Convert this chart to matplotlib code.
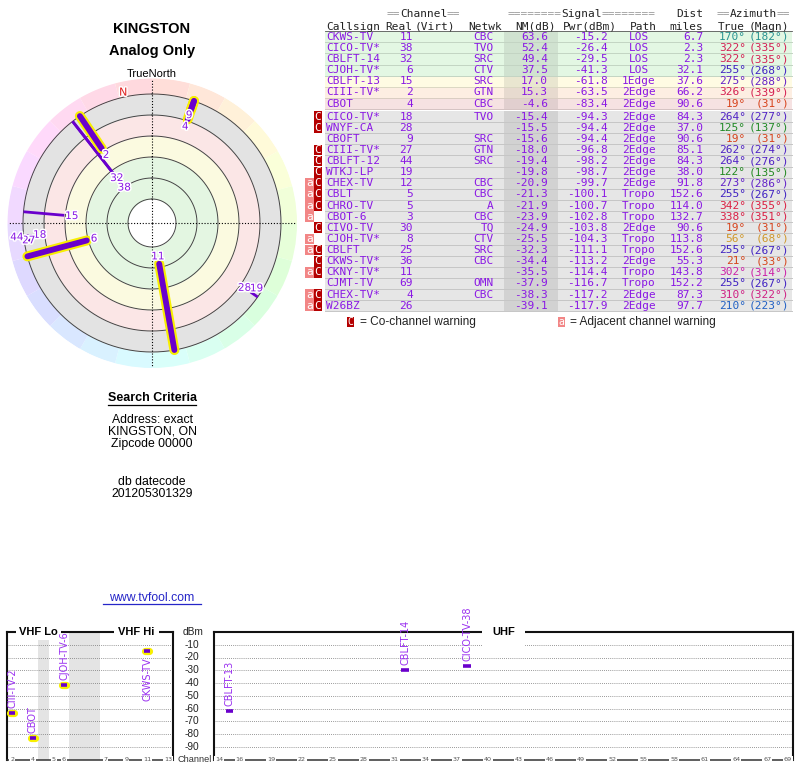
import numpy as np
import matplotlib
matplotlib.use("Agg")
import matplotlib.pyplot as plt
import matplotlib.patheffects as pe
from matplotlib.colors import hsv_to_rgb, to_rgb, LinearSegmentedColormap
from matplotlib.patches import Rectangle

# ---------------- data ----------------
callsigns = ["CKWS-TV", "CICO-TV*", "CBLFT-14", "CJOH-TV*", "CBLFT-13", "CIII-TV*", "CBOT",
             "CICO-TV*", "WNYF-CA", "CBOFT", "CIII-TV*", "CBLFT-12", "WTKJ-LP", "CHEX-TV",
             "CBLT", "CHRO-TV", "CBOT-6", "CIVO-TV", "CJOH-TV*", "CBLFT", "CKWS-TV*",
             "CKNY-TV*", "CJMT-TV", "CHEX-TV*", "W26BZ"]
real_channels = [11, 38, 32, 6, 15, 2, 4, 18, 28, 9, 27, 44, 19, 12, 5, 5, 3, 30, 8, 25, 36, 11, 69, 4, 26]
networks = ["CBC", "TVO", "SRC", "CTV", "SRC", "GTN", "CBC", "TVO", "", "SRC", "GTN", "SRC", "",
            "CBC", "CBC", "A", "CBC", "TQ", "CTV", "SRC", "CBC", "", "OMN", "CBC", ""]
nm_db = [63.6, 52.4, 49.4, 37.5, 17.0, 15.3, -4.6, -15.4, -15.5, -15.6, -18.0, -19.4, -19.8,
         -20.9, -21.3, -21.9, -23.9, -24.9, -25.5, -32.3, -34.4, -35.5, -37.9, -38.3, -39.1]
pwr_dbm = [-15.2, -26.4, -29.5, -41.3, -61.8, -63.5, -83.4, -94.3, -94.4, -94.4, -96.8, -98.2, -98.7,
           -99.7, -100.1, -100.7, -102.8, -103.8, -104.3, -111.1, -113.2, -114.4, -116.7, -117.2, -117.9]
paths = ["LOS", "LOS", "LOS", "LOS", "1Edge",
         "2Edge", "2Edge", "2Edge", "2Edge", "2Edge", "2Edge", "2Edge", "2Edge", "2Edge",
         "Tropo", "Tropo", "Tropo", "2Edge", "Tropo", "Tropo", "2Edge", "Tropo", "Tropo", "2Edge", "2Edge"]
dist_miles = [6.7, 2.3, 2.3, 32.1, 37.6, 66.2, 90.6, 84.3, 37.0, 90.6, 85.1, 84.3, 38.0,
              91.8, 152.6, 114.0, 132.7, 90.6, 113.8, 152.6, 55.3, 143.8, 152.2, 87.3, 97.7]
az_true = [170, 322, 322, 255, 275, 326, 19, 264, 125, 19, 262, 264, 122,
           273, 255, 342, 338, 19, 56, 255, 21, 302, 255, 310, 210]
az_magn = [182, 335, 335, 268, 288, 339, 31, 277, 137, 31, 274, 276, 135,
           286, 267, 355, 351, 31, 68, 267, 33, 314, 267, 322, 223]
warnings = ["", "", "", "", "", "", "", "C", "C", "", "C", "C", "C",
            "aC", "aC", "aC", "a", "C", "a", "aC", "C", "aC", "", "aC", "aC"]

vhf_ticks = [2, 4, 5, 6, 7, 9, 11, 13]
uhf_ticks = [14, 16, 19, 22, 25, 28, 31, 34, 37, 40, 43, 46, 49, 52, 55, 58, 61, 64, 67, 69]
dbm_ticks = [-10, -20, -30, -40, -50, -60, -70, -80, -90]

RADAR_MIN_NM = -20
SPECTRUM_MIN_NM = -10

# ---------------- style ----------------
SANS = "Liberation Sans"
MONO = "DejaVu Sans Mono"
PURPLE = "#8a18e4"
LINE_PURPLE = "#6a00cc"
YELLOW = "#f8ef00"
W, H = 800, 768

# azimuth text colour wheel (style)
_az_stops = [(0, "#e02034"), (20, "#d6461a"), (56, "#cf9a2a"), (122, "#228a22"), (170, "#2a9494"),
             (210, "#2262c4"), (255, "#3f22c2"), (275, "#6422c8"), (302, "#cc22a8"), (322, "#d42054"),
             (360, "#e02034")]
AZ_CMAP = LinearSegmentedColormap.from_list("az", [(a / 360.0, c) for a, c in _az_stops])


def az_color(a):
    return AZ_CMAP((a % 360) / 360.0)


fig = plt.figure(figsize=(W / 100, H / 100), dpi=100)

# overlay axes in pixel coordinates for text / table
ax = fig.add_axes([0, 0, 1, 1])
ax.set_xlim(0, W)
ax.set_ylim(H, 0)
ax.axis("off")

# ---------------- left panel text ----------------
ax.text(152, 29, "KINGSTON", ha="center", va="center", fontsize=10.5, fontweight="bold", family=SANS)
ax.text(152, 51, "Analog Only", ha="center", va="center", fontsize=10.5, fontweight="bold", family=SANS)
ax.text(152, 74, "TrueNorth", ha="center", va="center", fontsize=8, family=SANS)
ax.text(152, 398, "Search Criteria", ha="center", va="center", fontsize=9, fontweight="bold", family=SANS)
ax.plot([108, 196], [405, 405], color="black", lw=0.9)
for yy, s in [(420, "Address: exact"), (432, "KINGSTON, ON"), (444, "Zipcode 00000"),
              (482, "db datecode"), (494, "201205301329")]:
    ax.text(152, yy, s, ha="center", va="center", fontsize=8.8, family=SANS)
ax.text(152, 598, "www.tvfool.com", ha="center", va="center", fontsize=8.8, family=SANS, color="#2626c8")
ax.plot([103, 201], [604, 604], color="#2626c8", lw=0.9)

# ---------------- radar (polar) ----------------
cx, cy, R = 152, 223, 145
axp = fig.add_axes([(cx - R) / W, (H - cy - R) / H, 2 * R / W, 2 * R / H], projection="polar")
axp.set_theta_zero_location("N")
axp.set_theta_direction(-1)
NM_CENTER, NM_EDGE = 105, -40
ring_nm = [81, 60, 39, 18, -3, -24]
band_cols = ["#e3f6e1", "#e4f6e2", "#fbfae0", "#fbe6e6", "#e3e3e3"]
theta = np.linspace(0, 2 * np.pi, 721)
for k in range(5):
    axp.fill_between(theta, ring_nm[k], ring_nm[k + 1], color=band_cols[k], lw=0, zorder=1)
n_w = 24
for k in range(n_w):
    tt = np.linspace(2 * np.pi * k / n_w, 2 * np.pi * (k + 1) / n_w, 12)
    col = hsv_to_rgb(((k + 0.5) / n_w, 0.15, 1.0))
    axp.fill_between(tt, ring_nm[-1], NM_EDGE, color=col, lw=0, zorder=1)
for r in ring_nm:
    axp.plot(theta, np.full_like(theta, r), color="#444444", lw=0.7, zorder=2)
for t in [0, 0.5 * np.pi, np.pi, 1.5 * np.pi]:
    axp.plot([t, t], [NM_CENTER, NM_EDGE + 1], color="black", lw=0.8, ls=(0, (1, 1.6)), zorder=3)

decl = float(np.mean(np.array(az_magn) - np.array(az_true)))
axp.text(np.deg2rad(-decl), -28.5, "N", color="#e02020", ha="center", va="center", fontsize=8,
         family="DejaVu Sans", zorder=8, path_effects=[pe.withStroke(linewidth=2, foreground="white")])

radar_idx = [i for i in range(len(callsigns)) if nm_db[i] >= RADAR_MIN_NM]
for i in sorted(radar_idx, key=lambda j: real_channels[j] <= 13):
    th = np.deg2rad(az_true[i])
    rr = [nm_db[i], ring_nm[-1]]
    if real_channels[i] <= 13:
        axp.plot([th, th], rr, color=YELLOW, lw=7.2, solid_capstyle="round", zorder=5)
        axp.plot([th, th], rr, color=LINE_PURPLE, lw=4.2, solid_capstyle="round", zorder=6)
    else:
        axp.plot([th, th], rr, color=LINE_PURPLE, lw=2.0, solid_capstyle="butt", zorder=4)

placed = []
for i in sorted(radar_idx, key=lambda j: -nm_db[j]):
    a = np.deg2rad(az_true[i])
    rpx = (NM_CENTER - nm_db[i]) - 7.5
    while True:
        x, y = rpx * np.sin(a), rpx * np.cos(a)
        if all(np.hypot(x - px, y - py) >= 11.5 for px, py in placed):
            break
        rpx += 1
    placed.append((x, y))
    axp.text(a, NM_CENTER - rpx, str(real_channels[i]), color=PURPLE, ha="center", va="center",
             fontsize=7.5, family="DejaVu Sans", zorder=9,
             path_effects=[pe.withStroke(linewidth=2.2, foreground="white")])
axp.set_rlim(NM_CENTER, NM_EDGE)
axp.axis("off")

# ---------------- table ----------------
X0, X1 = 325, 792
ROW_H = 11.13


def row_color(nm):
    if nm >= 35:
        return "#e3f7e3"
    if nm >= 16:
        return "#fffbe3"
    if nm >= 10:
        return "#fdeee2"
    if nm >= -10:
        return "#f6e2e2"
    return "#e6e6e6"


row_y = []
y = 36.8
for i in range(len(callsigns)):
    if i > 0:
        y += ROW_H
        if nm_db[i] < -10 <= nm_db[i - 1]:
            y += 1.8
    row_y.append(y)

hdr_dark = "#222222"
hdr_eq = "#9a9a9a"
cw = 6.67
for word, cxh in [("Channel", 423.5), ("Signal", 581.7), ("Azimuth", 753.4)]:
    neq = 8 if word == "Signal" else 2
    half = len(word) * cw / 2
    ax.text(cxh, 14, word, ha="center", va="center", fontsize=8, family=MONO, color=hdr_dark)
    ax.text(cxh - half, 14, "=" * neq, ha="right", va="center", fontsize=8, family=MONO, color=hdr_eq)
    ax.text(cxh + half, 14, "=" * neq, ha="left", va="center", fontsize=8, family=MONO, color=hdr_eq)
ax.text(703.5, 14, "Dist", ha="right", va="center", fontsize=8, family=MONO, color=hdr_dark)
for s, xh, ha_ in [("Callsign", 326, "left"), ("Real", 412.5, "right"), ("(Virt)", 415, "left"),
                   ("Netwk", 468, "left"), ("NM(dB)", 515, "left"), ("Pwr(dBm)", 563, "left"),
                   ("Path", 630, "left"), ("miles", 703.5, "right"), ("True", 717.5, "left"),
                   ("(Magn)", 789.5, "right")]:
    ax.text(xh, 26.5, s, ha=ha_, va="center", fontsize=8, family=MONO, color=hdr_dark)
ax.plot([X0, X1], [31.3, 31.3], color="#555555", lw=0.6)

for i in range(len(callsigns)):
    yy = row_y[i]
    bg = row_color(nm_db[i])
    ax.add_patch(Rectangle((X0, yy - ROW_H / 2), X1 - X0, ROW_H, fc=bg, ec="none", zorder=1))
    dark = tuple(c * 0.915 for c in to_rgb(bg))
    ax.add_patch(Rectangle((504, yy - ROW_H / 2), 54, ROW_H, fc=dark, ec="none", zorder=1))
    sep = tuple(c * 0.86 for c in to_rgb(bg))
    ax.plot([X0, X1], [yy + ROW_H / 2, yy + ROW_H / 2], color=sep, lw=0.7, zorder=2)
    kw = dict(va="center", fontsize=8, family=MONO, zorder=3)
    ax.text(326, yy, callsigns[i], ha="left", color=PURPLE, **kw)
    ax.text(413, yy, str(real_channels[i]), ha="right", color=PURPLE, **kw)
    ax.text(494, yy, networks[i], ha="right", color=PURPLE, **kw)
    ax.text(548, yy, f"{nm_db[i]:.1f}", ha="right", color=PURPLE, **kw)
    ax.text(608, yy, f"{pwr_dbm[i]:.1f}", ha="right", color=PURPLE, **kw)
    ax.text(639, yy, paths[i], ha="center", color=PURPLE, **kw)
    ax.text(703, yy, f"{dist_miles[i]:.1f}", ha="right", color=PURPLE, **kw)
    ac = az_color(az_true[i])
    ax.text(746, yy, f"{az_true[i]}\u00b0", ha="right", color=ac, **kw)
    ax.text(789, yy, f"({az_magn[i]}\u00b0)", ha="right", color=ac, **kw)
    for flag, xb, fcol in [("a", 305, "#f28686"), ("C", 313.5, "#b40000")]:
        if flag in warnings[i]:
            ax.add_patch(Rectangle((xb, yy - 5.4), 8.5, 10.8, fc=fcol, ec="none", zorder=2))
            ax.text(xb + 4.25, yy, flag, ha="center", va="center", fontsize=8, family=MONO,
                    color="white", zorder=3)

ly = 322
ax.add_patch(Rectangle((346.5, ly - 5), 7, 10, fc="#b40000", ec="none"))
ax.text(350, ly, "C", ha="center", va="center", fontsize=7, family=MONO, color="white")
ax.text(360, ly, "= Co-channel warning", ha="left", va="center", fontsize=8.6, family=SANS, color="#222")
ax.add_patch(Rectangle((557.5, ly - 5), 7, 10, fc="#f28686", ec="none"))
ax.text(561, ly, "a", ha="center", va="center", fontsize=7, family=MONO, color="white")
ax.text(570, ly, "= Adjacent channel warning", ha="left", va="center", fontsize=8.6, family=SANS, color="#222")


# ---------------- spectrum ----------------
def px_axes(x0, y0, x1, y1):
    return fig.add_axes([x0 / W, 1 - y1 / H, (x1 - x0) / W, (y1 - y0) / H])


def vhf_slot(ch):
    return ch - 2 + (1 if ch >= 5 else 0) + (3 if ch >= 7 else 0)


axv = px_axes(7, 632, 173, 759.5)
axu = px_axes(214, 632, 793, 759.5)
axv.set_xlim(-0.5, 15.5)
axu.set_xlim(13.5, 69.5)
used = {vhf_slot(c) for c in range(2, 14)}
for s in range(16):
    if s not in used:
        axv.axvspan(s - 0.5, s + 0.5, color="#e4e4e4", lw=0, zorder=0)

for a_ in (axv, axu):
    a_.set_ylim(-100, 0)
    a_.set_xticks([])
    a_.set_yticks([])
    a_.patch.set_alpha(0)
    for sp in a_.spines.values():
        sp.set_linewidth(1.5)
        sp.set_color("#111111")
    a_.spines["bottom"].set_linewidth(1.1)
    a_.spines["bottom"].set_color("#333333")
    for v in dbm_ticks:
        a_.axhline(v, color="#777777", lw=0.6, ls=(0, (1, 1.5)), zorder=1)

tk = dict(ha="center", va="center", fontsize=4.6, family="DejaVu Sans", color="#555555",
          bbox=dict(fc="white", ec="none", pad=0.6), zorder=5, clip_on=False)
for c in vhf_ticks:
    axv.text(vhf_slot(c), 0, str(c), transform=axv.get_xaxis_transform(), **tk)
for c in uhf_ticks:
    axu.text(c, 0, str(c), transform=axu.get_xaxis_transform(), **tk)

lab = dict(ha="center", va="center", fontsize=8, fontweight="bold", family=SANS, zorder=5, clip_on=False)
axv.text(2.5, 1, "VHF Lo", transform=axv.get_xaxis_transform(), bbox=dict(fc="white", ec="none", pad=2.2), **lab)
axv.text(12, 1, "VHF Hi", transform=axv.get_xaxis_transform(), bbox=dict(fc="white", ec="none", pad=3.0), **lab)
axu.text(41.5, 1, "UHF", transform=axu.get_xaxis_transform(), bbox=dict(fc="white", ec="none", pad=7), **lab)

ytr = axu.get_yaxis_transform()
for v in dbm_ticks:
    axu.text(-0.038, v, str(v), transform=ytr, ha="center", va="center", fontsize=7.3, family=SANS,
             color="#222", clip_on=False)
axu.text(-0.036, 0, "dBm", transform=ytr, ha="center", va="center", fontsize=7.3, family=SANS,
         color="#222", clip_on=False)
axu.text(-0.033, -100, "Channel", transform=ytr, ha="center", va="center", fontsize=6.6, family=SANS,
         color="#333", clip_on=False)

spec_idx = [i for i in range(len(callsigns)) if nm_db[i] >= SPECTRUM_MIN_NM]
for i in spec_idx:
    ch, p = real_channels[i], pwr_dbm[i]
    name = callsigns[i].replace("*", f"-{ch}")
    if ch <= 13:
        a_, x = axv, vhf_slot(ch)
        a_.plot([x - 0.18, x + 0.18], [p, p], color=YELLOW, lw=5.2, solid_capstyle="round", zorder=6)
        a_.plot([x - 0.28, x + 0.28], [p, p], color=LINE_PURPLE, lw=2.6, solid_capstyle="butt", zorder=7)
    else:
        a_, x = axu, ch
        a_.plot([x - 0.38, x + 0.38], [p, p], color=LINE_PURPLE, lw=2.6, solid_capstyle="butt", zorder=7)
    if p > -20:
        a_.annotate(name, (x, p), xytext=(0, -4), textcoords="offset points", rotation=90,
                    ha="center", va="top", fontsize=7, family="DejaVu Sans", color="#9a30f0", zorder=8)
    else:
        a_.annotate(name, (x, p), xytext=(0, 3.5), textcoords="offset points", rotation=90,
                    ha="center", va="bottom", fontsize=7, family="DejaVu Sans", color="#9a30f0", zorder=8)

fig.savefig("out.png", dpi=100)
